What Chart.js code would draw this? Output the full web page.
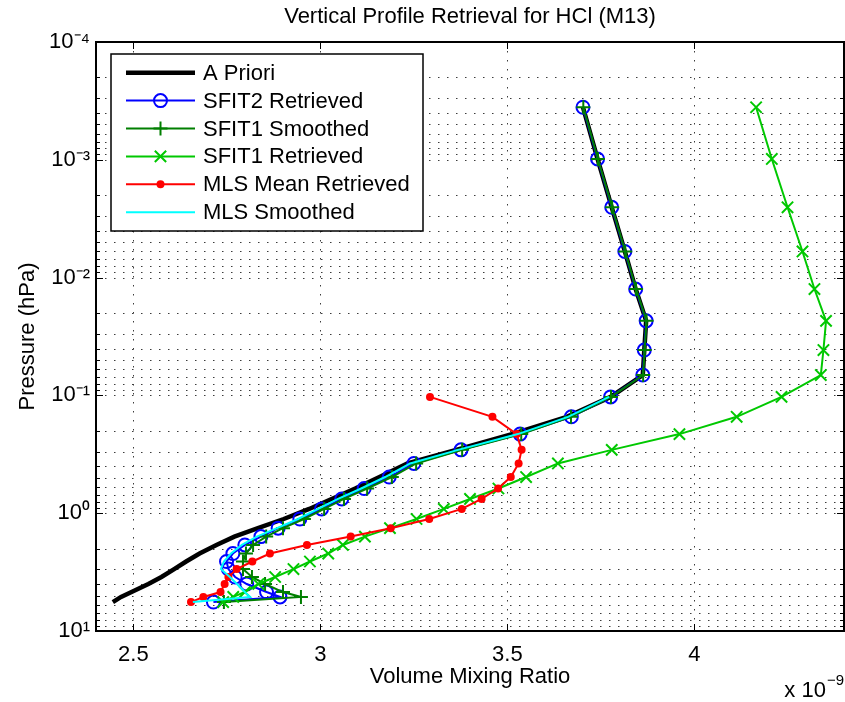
<!DOCTYPE html>
<html>
<head>
<meta charset="utf-8">
<script src="https://cdn.jsdelivr.net/npm/chart.js@4/dist/chart.umd.min.js"></script>
<style>
html,body{margin:0;padding:0;background:#fff;}
canvas{display:block;}
</style>
</head>
<body>
<canvas id="c" width="845" height="702"></canvas>
<script>
// ---- data (VMR in units of 1e-9, pressure in hPa) ----
const pressureLevels = [3.58e-4, 9.84e-4, 2.53e-3, 6.0e-3, 1.25e-2, 2.33e-2, 4.12e-2, 6.72e-2, 0.103, 0.152, 0.213, 0.290, 0.378, 0.493, 0.617, 0.757, 0.920, 1.12, 1.34, 1.58, 1.86, 2.20, 2.57, 2.98, 3.48, 3.99, 4.67, 5.14, 5.68];
const mlsLevels = [0.103, 0.152, 0.213, 0.290, 0.378, 0.493, 0.617, 0.757, 0.920, 1.12, 1.34, 1.58, 1.86, 2.20, 2.57, 2.98, 3.48, 3.99, 4.67, 5.14, 5.68];
const aPriori = [3.702,3.741,3.779,3.814,3.843,3.871,3.866,3.862,3.776,3.659,3.512,3.363,3.233,3.158,3.093,3.030,2.970,2.902,2.833,2.770,2.722,2.677,2.641,2.609,2.575,2.540,2.495,2.467,2.445];
const sfit2Retrieved = [3.702,3.741,3.779,3.814,3.843,3.871,3.866,3.862,3.776,3.671,3.534,3.376,3.250,3.184,3.117,3.057,3.003,2.945,2.887,2.841,2.798,2.766,2.749,2.754,2.772,2.803,2.856,2.892,2.714];
const sfit1Smoothed = [3.703,3.742,3.780,3.815,3.844,3.872,3.867,3.863,3.777,3.670,3.537,3.379,3.256,3.191,3.125,3.063,3.010,2.956,2.900,2.855,2.820,2.801,2.793,2.793,2.817,2.852,2.900,2.948,2.742];
const sfit1Retrieved = [4.165,4.207,4.249,4.289,4.321,4.352,4.345,4.338,4.233,4.113,3.960,3.779,3.635,3.550,3.476,3.400,3.330,3.257,3.186,3.119,3.060,3.021,2.972,2.928,2.879,2.834,2.798,2.767,2.740];
const mlsMeanRetrieved = [3.293,3.460,3.525,3.538,3.530,3.509,3.475,3.431,3.378,3.291,3.188,3.081,2.964,2.865,2.818,2.776,2.754,2.744,2.733,2.687,2.654];
const mlsSmoothed = [3.772,3.662,3.528,3.368,3.240,3.173,3.109,3.047,2.994,2.940,2.884,2.830,2.790,2.761,2.742,2.734,2.758,2.777,2.798,2.812,2.659];
const xTicks = [2.5, 3, 3.5, 4];
const xTickLabels = ['2.5', '3', '3.5', '4'];
const yTicks = [1e-4, 1e-3, 1e-2, 1e-1, 1, 10];
const yTickLabels = ['10\u207B\u2074', '10\u207B\u00B3', '10\u207B\u00B2', '10\u207B\u00B9', '10\u2070', '10\u00B9'];
const seriesLabels = ['A Priori', 'SFIT2 Retrieved', 'SFIT1 Smoothed', 'SFIT1 Retrieved', 'MLS Mean Retrieved', 'MLS Smoothed'];

const FONT = 'Liberation Sans, Arial, Helvetica, sans-serif';
const FS = 22;
Chart.defaults.font.family = FONT;
Chart.defaults.color = '#000';

function pts(xs, ps) { return xs.map((v, i) => ({x: v, y: ps[i]})); }

const datasets = [
  {label: seriesLabels[0], data: pts(aPriori, pressureLevels), borderColor: '#000', borderWidth: 4.5, pointRadius: 0, order: 6},
  {label: seriesLabels[1], data: pts(sfit2Retrieved, pressureLevels), borderColor: '#0000ff', borderWidth: 2, pointStyle: 'circle', pointRadius: 6.5, pointBorderWidth: 2, pointBorderColor: '#0000ff', pointBackgroundColor: 'rgba(0,0,0,0)', order: 5},
  {label: seriesLabels[2], data: pts(sfit1Smoothed, pressureLevels), borderColor: '#007f00', borderWidth: 2, pointStyle: 'cross', pointRadius: 7, pointBorderWidth: 2, pointBorderColor: '#007f00', pointBackgroundColor: '#007f00', order: 4},
  {label: seriesLabels[3], data: pts(sfit1Retrieved, pressureLevels), borderColor: '#00c800', borderWidth: 2, pointStyle: 'crossRot', pointRadius: 8, pointBorderWidth: 2, pointBorderColor: '#00c800', pointBackgroundColor: '#00c800', order: 3},
  {label: seriesLabels[4], data: pts(mlsMeanRetrieved, mlsLevels), borderColor: '#ff0000', borderWidth: 2, pointStyle: 'circle', pointRadius: 4, pointBorderWidth: 0, pointBackgroundColor: '#ff0000', order: 2},
  {label: seriesLabels[5], data: pts(mlsSmoothed, mlsLevels), borderColor: '#00ffff', borderWidth: 2, pointRadius: 0, order: 1}
];
datasets.forEach(d => { d.fill = false; d.tension = 0; d.borderJoinStyle = 'miter'; });

const frame = {
  id: 'frame',
  beforeDatasetsDraw(chart) {
    const {ctx, chartArea: a, scales: {x, y}} = chart;
    ctx.save();
    ctx.strokeStyle = '#3c3c3c';
    ctx.lineWidth = 1;
    ctx.setLineDash([1.5, 7.5]);
    for (let e = -4; e <= 0; e++) {
      for (let m = 1; m <= 9; m++) {
        const v = m * Math.pow(10, e);
        if (v <= 1e-4) continue;
        const py = Math.round(y.getPixelForValue(v)) + 0.5;
        ctx.beginPath(); ctx.moveTo(a.left, py); ctx.lineTo(a.right, py); ctx.stroke();
      }
    }
    xTicks.forEach(v => {
      const px = Math.round(x.getPixelForValue(v)) + 0.5;
      ctx.beginPath(); ctx.moveTo(px, a.top); ctx.lineTo(px, a.bottom); ctx.stroke();
    });
    ctx.restore();
  },
  afterDatasetsDraw(chart) {
    const {ctx, chartArea: a, scales: {x, y}} = chart;
    ctx.save();
    ctx.strokeStyle = '#000';
    ctx.lineWidth = 1;
    ctx.setLineDash([]);
    // tick marks (inside)
    for (let e = -4; e <= 0; e++) {
      for (let m = 1; m <= 9; m++) {
        const v = m * Math.pow(10, e);
        const py = Math.round(y.getPixelForValue(v)) + 0.5;
        const len = m === 1 ? 7 : 4;
        ctx.beginPath();
        ctx.moveTo(a.left, py); ctx.lineTo(a.left + len, py);
        ctx.moveTo(a.right, py); ctx.lineTo(a.right - len, py);
        ctx.stroke();
      }
    }
    xTicks.forEach(v => {
      const px = Math.round(x.getPixelForValue(v)) + 0.5;
      ctx.beginPath();
      ctx.moveTo(px, a.bottom); ctx.lineTo(px, a.bottom - 7);
      ctx.moveTo(px, a.top); ctx.lineTo(px, a.top + 7);
      ctx.stroke();
    });
    // axes box
    ctx.lineWidth = 2;
    ctx.strokeRect(a.left, a.top, a.right - a.left, a.bottom - a.top);

    // legend
    const L = {left: 111, top: 54, right: 423, bottom: 231, y0: 72.7, dy: 27.9, l0: 126, l1: 195, mx: 160.5, tx: 203};
    ctx.fillStyle = '#fff';
    ctx.fillRect(L.left, L.top, L.right - L.left, L.bottom - L.top);
    ctx.lineWidth = 1.5;
    ctx.strokeStyle = '#000';
    ctx.strokeRect(L.left, L.top, L.right - L.left, L.bottom - L.top);
    chart.data.datasets.forEach((d, i) => {
      const yy = L.y0 + i * L.dy;
      ctx.strokeStyle = d.borderColor;
      ctx.lineWidth = d.borderWidth;
      ctx.beginPath(); ctx.moveTo(L.l0, yy); ctx.lineTo(L.l1, yy); ctx.stroke();
      if (d.pointRadius > 0) {
        ctx.strokeStyle = d.pointBorderColor || d.borderColor;
        ctx.fillStyle = d.pointBackgroundColor;
        ctx.lineWidth = d.pointBorderWidth;
        Chart.helpers.drawPoint(ctx, {pointStyle: d.pointStyle, radius: d.pointRadius, borderWidth: d.pointBorderWidth, rotation: 0}, L.mx, yy);
      }
      ctx.fillStyle = '#000';
      ctx.font = FS + 'px ' + FONT;
      ctx.textAlign = 'left';
      ctx.textBaseline = 'middle';
      ctx.fillText(d.label, L.tx, yy + 1);
    });

    // x-axis exponent label
    ctx.fillStyle = '#000';
    ctx.textBaseline = 'alphabetic';
    ctx.textAlign = 'left';
    ctx.font = FS + 'px ' + FONT;
    const base = 'x 10';
    const bw = ctx.measureText(base).width;
    ctx.font = '15px ' + FONT;
    const ew = ctx.measureText('\u22129').width;
    const x0 = 843 - bw - ew;
    ctx.font = FS + 'px ' + FONT;
    ctx.fillText(base, x0, 697);
    ctx.font = '15px ' + FONT;
    ctx.fillText('\u22129', x0 + bw + 1, 685);
    ctx.restore();
  }
};

new Chart(document.getElementById('c'), {
  type: 'line',
  data: {datasets},
  options: {
    responsive: false,
    animation: false,
    devicePixelRatio: 1,
    events: [],
    layout: {autoPadding: false, padding: {left: 0, right: 1, top: 0, bottom: 0}},
    plugins: {
      legend: {display: false},
      tooltip: {enabled: false},
      title: {
        display: true,
        text: 'Vertical Profile Retrieval for HCl (M13)',
        fullSize: false,
        font: {size: FS, weight: 'normal', lineHeight: 1.2},
        color: '#000',
        padding: {top: 4, bottom: 11.6}
      }
    },
    scales: {
      x: {
        type: 'linear',
        position: 'bottom',
        min: 2.4,
        max: 4.4,
        grid: {display: false, drawTicks: false},
        border: {display: false},
        afterBuildTicks: s => { s.ticks = xTicks.map(v => ({value: v})); },
        afterFit: s => { s.height = 71; s.paddingLeft = 0; s.paddingRight = 0; },
        ticks: {
          autoSkip: false,
          maxRotation: 0,
          padding: 11,
          font: {size: FS},
          color: '#000',
          callback: (v, i) => xTickLabels[i]
        },
        title: {display: true, text: 'Volume Mixing Ratio', font: {size: FS}, color: '#000', padding: {top: 0, bottom: 12}}
      },
      y: {
        type: 'logarithmic',
        position: 'left',
        reverse: true,
        min: 1e-4,
        max: 10,
        grid: {display: false, drawTicks: false},
        border: {display: false},
        afterBuildTicks: s => { s.ticks = yTicks.map(v => ({value: v})); },
        afterFit: s => { s.width = 96; s.paddingTop = 0; s.paddingBottom = 0; },
        ticks: {
          autoSkip: false,
          padding: 6,
          font: {size: FS},
          color: '#000',
          callback: (v, i) => yTickLabels[i]
        },
        title: {display: true, text: 'Pressure (hPa)', font: {size: FS}, color: '#000', padding: {top: 15, bottom: 0}}
      }
    }
  },
  plugins: [frame]
});
</script>
</body>
</html>
